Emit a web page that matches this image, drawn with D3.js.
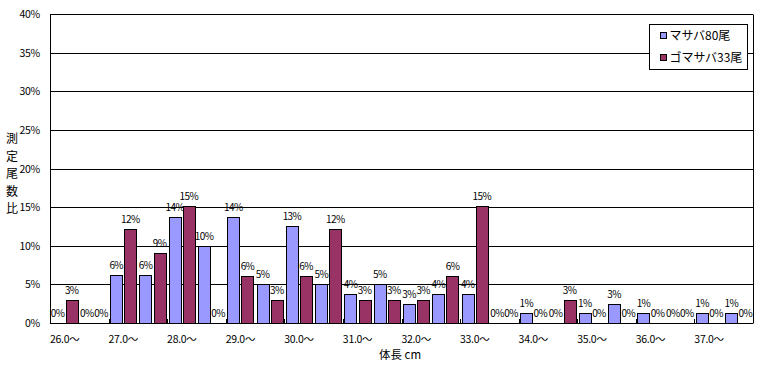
<!DOCTYPE html>
<html lang="ja">
<head>
<meta charset="UTF-8">
<title>体長組成</title>
<script src="https://d3js.org/d3.v7.min.js"></script>
<style>
  body { margin: 0; background: #fff; }
  text { font-family: "Noto Sans CJK JP", "DejaVu Sans", sans-serif; fill: #000; }
  .grid line { stroke: #000; stroke-width: 1px; }
  .val { font-size: 10px; letter-spacing: -0.6px; }
  .tick-lbl { font-size: 10.5px; letter-spacing: -0.3px; }
</style>
</head>
<body>
<script>
// 体長区分（0.5cm刻み）
const categories = ["26.0〜","26.5〜","27.0〜","27.5〜","28.0〜","28.5〜","29.0〜","29.5〜",
  "30.0〜","30.5〜","31.0〜","31.5〜","32.0〜","32.5〜","33.0〜","33.5〜",
  "34.0〜","34.5〜","35.0〜","35.5〜","36.0〜","36.5〜","37.0〜","37.5〜"];
const seriesNames = ["マサバ80尾", "ゴマサバ33尾"];
// 測定尾数比（%）
const masaba = [0, 0, 6.25, 6.25, 13.75, 10, 13.75, 5, 12.5, 5, 3.75, 5, 2.5, 3.75, 3.75, 0,
  1.25, 0, 1.25, 2.5, 1.25, 0, 1.25, 1.25];
const gomasaba = [3.03, 0, 12.12, 9.09, 15.15, 0, 6.06, 3.03, 6.06, 12.12, 3.03, 3.03, 3.03, 6.06, 15.15, 0,
  0, 3.03, 0, 0, 0, 0, 0, 0];
const yTicks = [0, 5, 10, 15, 20, 25, 30, 35, 40];
const colors = ["#9999ff", "#993366"];

const width = 762, height = 366;
const margin = {left: 50, right: 9, top: 14, bottom: 43};
const plotW = width - margin.left - margin.right;
const plotH = height - margin.top - margin.bottom;

const svg = d3.select("body").append("svg")
  .attr("width", width).attr("height", height);

const g = svg.append("g").attr("transform", `translate(${margin.left},${margin.top})`);

const x0 = d3.scaleBand().domain(categories).range([0, plotW]).padding(0);
const x1 = d3.scaleBand().domain([0, 1]).range([0, x0.bandwidth()])
  .paddingInner(0.14).paddingOuter(0.11);
const y = d3.scaleLinear().domain([0, 40]).range([plotH, 0]);

// grid
g.append("g").attr("class", "grid")
  .selectAll("line").data(yTicks).enter().append("line")
  .attr("x1", 0).attr("x2", plotW)
  .attr("y1", d => Math.round(y(d)) + 0.5).attr("y2", d => Math.round(y(d)) + 0.5);

// right border
g.append("line").attr("x1", plotW + 0.5).attr("x2", plotW + 0.5)
  .attr("y1", Math.round(y(40)) + 0.5).attr("y2", plotH + 0.5)
  .attr("stroke", "#000");

// y tick labels
g.append("g").selectAll("text").data(yTicks).enter().append("text")
  .attr("class", "tick-lbl")
  .attr("x", -10).attr("y", d => y(d) + 4)
  .attr("text-anchor", "end")
  .text(d => d + "%");

// bars
const data = [masaba, gomasaba];
data.forEach((vals, s) => {
  g.append("g").selectAll("rect").data(vals).enter().append("rect")
    .attr("x", (d, i) => Math.round(x0(categories[i]) + x1(s)) + 0.5)
    .attr("width", Math.round(x1.bandwidth()))
    .attr("y", d => Math.round(y(d)) + 0.5)
    .attr("height", d => Math.round(plotH - y(d)))
    .attr("fill", colors[s])
    .attr("stroke", "#000")
    .attr("stroke-width", 1)
    .style("display", d => d > 0 ? null : "none");

  g.append("g").selectAll("text").data(vals).enter().append("text")
    .attr("class", "val")
    .attr("x", (d, i) => x0(categories[i]) + x1(s) + x1.bandwidth() / 2)
    .attr("y", d => y(d) - 6)
    .attr("text-anchor", "middle")
    .text(d => Math.round(d) + "%");
});

// x axis line and ticks
g.append("line").attr("x1", 0).attr("x2", plotW)
  .attr("y1", plotH + 0.5).attr("y2", plotH + 0.5).attr("stroke", "#000");
g.append("line").attr("x1", 0.5).attr("x2", 0.5)
  .attr("y1", Math.round(y(40)) + 0.5).attr("y2", plotH + 0.5).attr("stroke", "#000");
g.append("g").selectAll("line")
  .data(categories.filter((c, i) => i % 2 === 0 && i > 0))
  .enter().append("line")
  .attr("x1", d => Math.round(x0(d)) + 0.5).attr("x2", d => Math.round(x0(d)) + 0.5)
  .attr("y1", plotH - 4).attr("y2", plotH)
  .attr("stroke", "#000");

// x tick labels (every other category)
g.append("g").selectAll("text")
  .data(categories.filter((c, i) => i % 2 === 0))
  .enter().append("text")
  .attr("class", "tick-lbl")
  .attr("x", d => x0(d) + x0.bandwidth() / 2)
  .attr("y", plotH + 20)
  .attr("text-anchor", "middle")
  .text(d => d);

// axis titles
svg.append("text")
  .attr("x", 400).attr("y", 359)
  .attr("text-anchor", "middle")
  .style("font-size", "11.5px")
  .text("体長 cm");

const yTitle = "測定尾数比".split("");
svg.append("g").selectAll("text").data(yTitle).enter().append("text")
  .attr("x", 12).attr("y", (d, i) => 143 + i * 17.5)
  .attr("text-anchor", "middle")
  .style("font-size", "12px")
  .text(d => d);

// legend
const lg = svg.append("g").attr("transform", "translate(649.5,24.5)");
lg.append("rect").attr("width", 98).attr("height", 45)
  .attr("fill", "#fff").attr("stroke", "#000");
seriesNames.forEach((name, i) => {
  lg.append("rect").attr("x", 11).attr("y", 8 + i * 22)
    .attr("width", 6).attr("height", 6)
    .attr("fill", colors[i]).attr("stroke", "#000");
  lg.append("text").attr("x", 20).attr("y", 15.5 + i * 22)
    .style("font-size", "12px")
    .text(name);
});
</script>
</body>
</html>
